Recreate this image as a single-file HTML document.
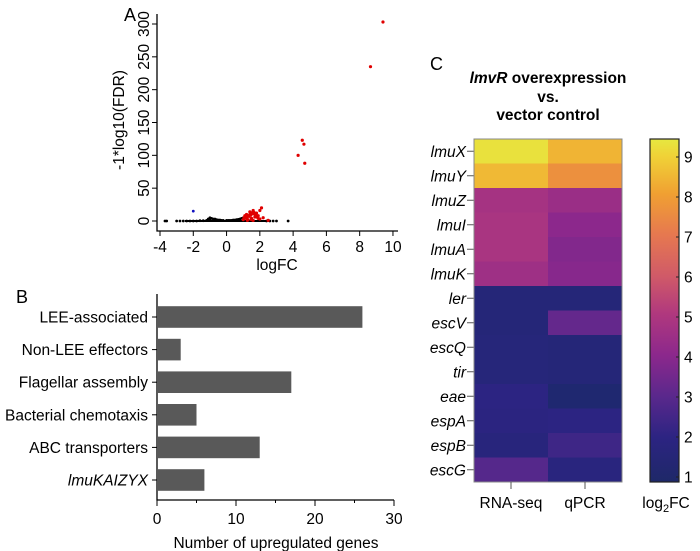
<!DOCTYPE html>
<html><head><meta charset="utf-8"><style>
body{margin:0;background:#fff;}
svg{display:block;font-family:"Liberation Sans",Arial,sans-serif;}
</style></head><body>
<svg id="fig" width="700" height="551" viewBox="0 0 700 551">
<defs>
<linearGradient id="plasma" x1="0" y1="1" x2="0" y2="0">
<stop offset="0" stop-color="#1e2868"/>
<stop offset="0.13" stop-color="#2c2482"/>
<stop offset="0.25" stop-color="#5a288c"/>
<stop offset="0.37" stop-color="#8c288c"/>
<stop offset="0.49" stop-color="#b0387e"/>
<stop offset="0.6" stop-color="#d05a68"/>
<stop offset="0.72" stop-color="#e67850"/>
<stop offset="0.84" stop-color="#f0a032"/>
<stop offset="0.95" stop-color="#f0d237"/>
<stop offset="1" stop-color="#e6e840"/>
</linearGradient>
</defs>
<g id="pa"></g>
<g id="pb"></g>
<g id="pc"></g>
</svg>
<script>
// ---- Panel A data ----
const volBlackX=[-3.7,-3.6,-3.0,-2.8,-2.6,-2.4,-2.2,-2.0,-1.8,-1.6,-1.4,-1.2,-1.0,-1.0,-0.8,-0.6,-0.4,-0.2,0,0.2,0.4,0.6,0.8,1.0,-1.1,-0.9,-0.7,2.4,2.6,2.8,3.0,3.7,0.9,1.0,-0.5,0.5,0.7,0.3,-0.3,0.1];
const volBlackY=[0,0,0,0,0,0,0,0,0,0.5,0.5,1,2,5,3,2,1.5,1,1,1,1.5,2,3,4,3,4,3,0,0,0,0,0,4,5,1.5,1.5,2.5,1,1,1];
const volRedX=[1.0,1.1,1.2,1.3,1.4,1.5,1.6,1.7,1.8,1.9,2.0,2.1,1.3,1.5,1.7,1.9,1.2,1.4,1.6,1.8,2.2,2.5,1.1,1.5,2.0,1.2,1.35,1.45,1.55,1.65,1.75,1.85,1.25,1.6,1.05,4.3,4.55,4.65,4.7,8.65,9.4];
const volRedY=[2,4,6,8,10,12,14,10,12,8,16,20,2,4,6,4,10,14,16,6,5,1,8,2,3,5,7,9,11,13,9,7,1,1,5,100,123,117,88,235,303];
const volBlueX=[-2.0];
const volBlueY=[15];
const volXTicks=[-4,-2,0,2,4,6,8,10];
const volYTicks=[0,50,100,150,200,250,300];
// ---- Panel B data ----
const barCats=["LEE-associated","Non-LEE effectors","Flagellar assembly","Bacterial chemotaxis","ABC transporters","lmuKAIZYX"];
const barVals=[26,3,17,5,13,6];
const barTicks=[0,10,20,30];
// ---- Panel C data ----
const hmGenes=["lmuX","lmuY","lmuZ","lmuI","lmuA","lmuK","ler","escV","escQ","tir","eae","espA","espB","escG"];
const hmCols=["RNA-seq","qPCR"];
const hmRna=[9.3,8.5,4.7,4.8,4.8,4.5,1.5,1.5,1.6,1.6,2.0,1.9,1.7,2.9];
const hmQpcr=[8.4,7.6,4.4,4.0,3.8,3.9,1.5,3.2,1.5,1.5,1.1,2.0,2.4,1.8];
const cbTicks=[1,2,3,4,5,6,7,8,9];

const NS="http://www.w3.org/2000/svg";
function mk(tag,parent,attrs,text){const e=document.createElementNS(NS,tag);for(const k in attrs)e.setAttribute(k,attrs[k]);if(text!==undefined)e.textContent=text;parent.appendChild(e);return e;}
const FS=15.5;

// ---- Panel A ----
const A=document.getElementById('pa');
const ax=v=>160+(v+4)*16.64, ay=v=>221-v*197/300;
let t=mk('text',A,{x:124,y:21,'font-size':18},'A');

let l=mk('path',A,{d:'M157,14 V231 H398',fill:'none',stroke:'#000','stroke-width':1.3});

volXTicks.forEach(v=>{mk('line',A,{x1:ax(v),x2:ax(v),y1:231,y2:236,stroke:'#000'});
 const e=mk('text',A,{x:ax(v),y:252,'font-size':FS,'text-anchor':'middle'},String(v));
 });
volYTicks.forEach(v=>{mk('line',A,{x1:152,x2:157,y1:ay(v),y2:ay(v),stroke:'#000'});
 const e=mk('text',A,{x:0,y:0,'font-size':FS,'text-anchor':'middle',transform:`translate(149,${ay(v)}) rotate(-90)`},String(v));
 });
t=mk('text',A,{x:0,y:0,'font-size':FS,'text-anchor':'middle',transform:'translate(124,120) rotate(-90)'},'-1*log10(FDR)');

t=mk('text',A,{x:277,y:270,'font-size':FS,'text-anchor':'middle'},'logFC');

mk('path',A,{d:`M${ax(-2.5)},${ay(0)} H${ax(2.6)}`,stroke:'#000','stroke-width':2});
volBlackX.forEach((x,i)=>{const c=mk('circle',A,{cx:ax(x),cy:ay(volBlackY[i]),r:1.4,fill:'#000'});
 });
volRedX.forEach((x,i)=>{const c=mk('circle',A,{cx:ax(x),cy:ay(volRedY[i]),r:1.6,fill:'#e00000'});
 });
volBlueX.forEach((x,i)=>{const c=mk('circle',A,{cx:ax(x),cy:ay(volBlueY[i]),r:1.4,fill:'#1010c0'});
 });

// ---- Panel B ----
const B=document.getElementById('pb');
const bx=v=>157+v*7.9;
t=mk('text',B,{x:16,y:303,'font-size':18},'B');

l=mk('path',B,{d:'M157,294 V500 H394',fill:'none',stroke:'#000','stroke-width':1.3});

barTicks.forEach(v=>{mk('line',B,{x1:bx(v),x2:bx(v),y1:500,y2:506,stroke:'#000'});
 const e=mk('text',B,{x:bx(v),y:524,'font-size':FS,'text-anchor':'middle'},String(v));
 });
[5,15,25].forEach(v=>mk('line',B,{x1:bx(v),x2:bx(v),y1:500,y2:503,stroke:'#000'}));
barCats.forEach((c,i)=>{const cy=317+i*32.6;
 const r=mk('rect',B,{x:157,y:cy-10.8,width:bx(barVals[i])-157,height:21.6,fill:'#595959'});
 
 mk('line',B,{x1:152,x2:157,y1:cy,y2:cy,stroke:'#000'});
 const e=mk('text',B,{x:148,y:cy+5.5,'font-size':FS,'text-anchor':'end','font-style':i==5?'italic':'normal'},c);
 });
t=mk('text',B,{x:276,y:548,'font-size':FS,'text-anchor':'middle'},'Number of upregulated genes');


// ---- Panel C ----
const C=document.getElementById('pc');
const stops=[[1,[30,40,110]],[2,[44,36,130]],[3,[90,40,140]],[4,[140,40,140]],[5,[176,56,126]],[6,[208,90,104]],[7,[230,120,80]],[8,[240,160,50]],[9,[240,210,55]],[9.45,[230,232,64]]];
function col(v){v=Math.max(1,Math.min(9.45,v));for(let i=0;i<stops.length-1;i++){const[a,ca]=stops[i],[b,cb]=stops[i+1];if(v<=b){const f=(v-a)/(b-a);return 'rgb('+ca.map((x,j)=>Math.round(x+(cb[j]-x)*f)).join(',')+')';}}return 'rgb(230,232,64)';}
t=mk('text',C,{x:430,y:70,'font-size':18},'C');

const ttl=mk('text',C,{x:548,y:83,'font-size':FS,'font-weight':'bold','text-anchor':'middle'});

mk('tspan',ttl,{'font-style':'italic'},'lmvR');mk('tspan',ttl,{},' overexpression');
mk('text',C,{x:548,y:102,'font-size':FS,'font-weight':'bold','text-anchor':'middle'},'vs.');
mk('text',C,{x:548,y:120,'font-size':FS,'font-weight':'bold','text-anchor':'middle'},'vector control');
const hx0=474,cw=74,hy0=139,rh=(482-139)/14;
hmGenes.forEach((g,i)=>{const y=hy0+i*rh;
 [hmRna[i],hmQpcr[i]].forEach((v,j)=>{const r=mk('rect',C,{x:hx0+j*cw,y:y,width:cw,height:rh+0.5,fill:col(v)});
  });
 mk('line',C,{x1:467,x2:474,y1:y+rh/2,y2:y+rh/2,stroke:'#555'});
 const e=mk('text',C,{x:466,y:y+rh/2+5.5,'font-size':FS,'font-style':'italic','text-anchor':'end'},g);
 });
mk('rect',C,{x:hx0,y:hy0,width:2*cw,height:482-139,fill:'none',stroke:'#888'});
hmCols.forEach((c,j)=>{const x=hx0+j*cw+cw/2;mk('line',C,{x1:x,x2:x,y1:482,y2:489,stroke:'#555'});
 const e=mk('text',C,{x:x,y:508,'font-size':FS,'text-anchor':'middle'},c);
 });
const cy=v=>477-(v-1)*40;
const cb=mk('rect',C,{x:650,y:139,width:29,height:343,fill:'url(#plasma)',stroke:'#222','stroke-width':1.2});

cbTicks.forEach(v=>{mk('line',C,{x1:676,x2:679,y1:cy(v),y2:cy(v),stroke:'#222'});
 const e=mk('text',C,{x:684,y:cy(v)+5.5,'font-size':FS},String(v));
 });
const lg=mk('text',C,{x:666,y:508,'font-size':FS,'text-anchor':'middle'});

mk('tspan',lg,{},'log');mk('tspan',lg,{'font-size':11,dy:4},'2');mk('tspan',lg,{dy:-4},'FC');
</script>
</body></html>
